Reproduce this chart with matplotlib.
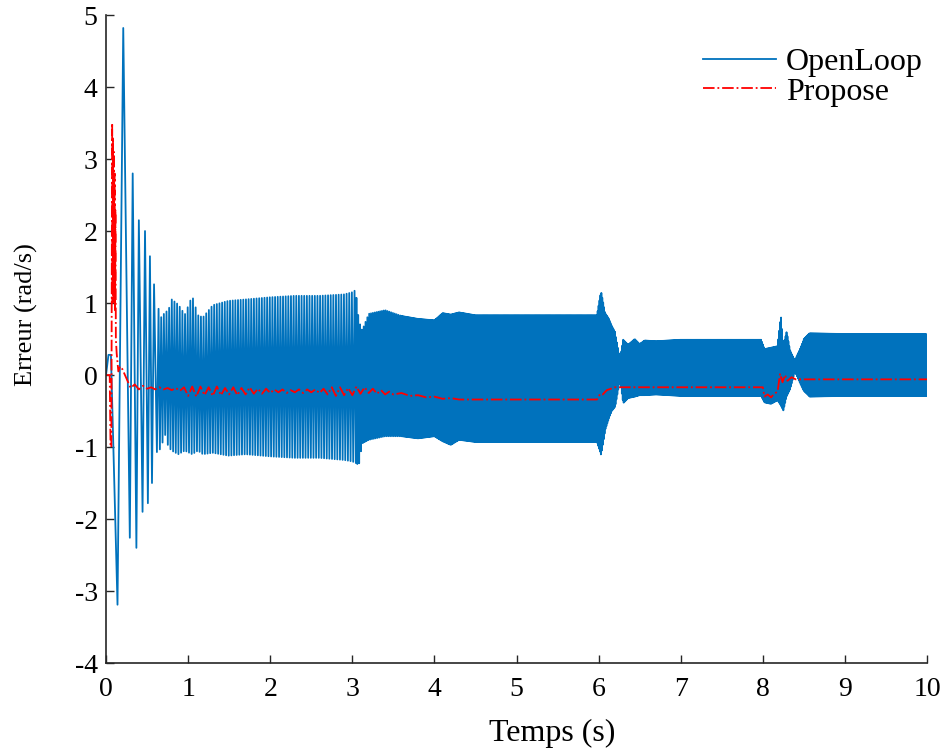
import numpy as np
import matplotlib
matplotlib.use("Agg")
import matplotlib.pyplot as plt

plt.rcParams['font.family'] = ['Liberation Serif', 'DejaVu Serif']
plt.rcParams['axes.unicode_minus'] = False

# ---- OpenLoop: early transient extrema (read individually) ----
ol_peak_t = [0.0, 0.03, 0.06, 0.14, 0.21, 0.29, 0.325, 0.37, 0.40, 0.445, 0.475, 0.51, 0.535, 0.56, 0.585, 0.62]
ol_peak_v = [0.0, 0.28, 0.28, -3.19, 4.82, -2.26, 2.8, -2.4, 2.15, -1.9, 2.0, -1.78, 1.65, -1.5, 1.26, -1.07]

# ---- OpenLoop: oscillation envelope (upper / lower) ----
env_t = [0.64, 0.67, 0.72, 0.76, 0.8, 0.88, 0.96, 1.05, 1.12, 1.18, 1.3, 1.49, 1.7, 2.0, 2.3, 2.6, 2.9,
         3.0, 3.04, 3.08, 3.12, 3.2, 3.4, 3.6, 3.8, 4.0, 4.1, 4.2, 4.3, 4.5, 5.0, 5.5, 5.98,
         6.03, 6.08, 6.12, 6.16, 6.2, 6.26, 6.3, 6.36, 6.44, 6.5, 6.56, 6.7, 7.0, 7.5, 7.98,
         8.02, 8.1, 8.18, 8.22, 8.25, 8.29, 8.33, 8.39, 8.45, 8.5, 8.57, 9.0, 10.0]
env_hi = [0.92, 0.8, 0.87, 0.9, 1.05, 0.98, 0.84, 1.1, 0.83, 0.8, 0.97, 1.03, 1.05, 1.08, 1.1, 1.1, 1.12,
          1.15, 1.18, 0.75, 0.62, 0.85, 0.9, 0.82, 0.78, 0.76, 0.86, 0.84, 0.87, 0.83, 0.83, 0.83, 0.83,
          1.16, 0.86, 0.79, 0.68, 0.6, 0.2, 0.49, 0.42, 0.5, 0.43, 0.48, 0.47, 0.49, 0.49, 0.49,
          0.36, 0.38, 0.4, 0.83, 0.4, 0.6, 0.35, 0.2, 0.35, 0.5, 0.58, 0.57, 0.57]
env_lo = [-1.07, -1.0, -0.83, -1.0, -1.05, -1.1, -1.05, -1.1, -1.05, -1.1, -1.08, -1.12, -1.1, -1.13, -1.15, -1.15, -1.18,
          -1.2, -1.22, -1.25, -0.95, -0.9, -0.85, -0.85, -0.88, -0.85, -0.92, -0.97, -0.9, -0.93, -0.93, -0.93, -0.93,
          -1.11, -0.76, -0.62, -0.5, -0.44, -0.07, -0.39, -0.32, -0.3, -0.28, -0.28, -0.27, -0.29, -0.29, -0.29,
          -0.38, -0.4, -0.35, -0.42, -0.49, -0.3, -0.2, 0.05, -0.1, -0.22, -0.3, -0.29, -0.29]

# visible oscillation rate (cycles per second) in each stretch
seg_t = [0.64, 3.05, 3.6, 10.0]
seg_rate = [31, 45, 90]

# ---- Propose ----
red_t = [0, 0.045, 0.055, 0.065, 0.075, 0.08, 0.085, 0.09, 0.095, 0.10, 0.105, 0.11, 0.115, 0.12, 0.13,
         0.15, 0.17, 0.2, 0.25, 0.3, 0.35, 0.4, 0.45, 0.5, 0.55, 0.6, 0.65, 0.7, 0.75, 0.8, 0.85, 0.9, 0.95,
         1.0, 1.05, 1.1, 1.15, 1.2, 1.25, 1.3, 1.35, 1.4, 1.45, 1.5, 1.55, 1.6, 1.65, 1.7, 1.75, 1.8, 1.85,
         1.9, 1.95, 2.0, 2.05, 2.1, 2.15, 2.2, 2.25, 2.3, 2.35, 2.4, 2.45, 2.5, 2.55, 2.6, 2.65, 2.7, 2.75,
         2.8, 2.85, 2.9, 2.95, 3.0, 3.05, 3.1, 3.15, 3.2, 3.25, 3.3, 3.35, 3.4, 3.45, 3.5, 3.6, 3.7, 3.8,
         3.9, 4.0, 4.1, 4.2, 4.3, 4.5, 5.0, 5.5, 5.98, 6.02, 6.05, 6.1, 6.15, 6.2, 7.0, 7.5, 8.0, 8.02,
         8.06, 8.1, 8.14, 8.18, 8.21, 8.24, 8.27, 8.3, 8.35, 8.4, 9.0, 10.0]
red_v = [0.0, 0.0, -1.0, -1.0, 3.5, 1.0, 3.3, 1.1, 3.1, 1.0, 2.8, 0.9, 2.3, 0.5, 0.3,
         0.05, 0.12, 0.08, -0.05, -0.18, -0.13, -0.2, -0.15, -0.19, -0.17, -0.2, -0.17, -0.2, -0.18, -0.21, -0.18, -0.22, -0.17,
         -0.29, -0.16, -0.3, -0.16, -0.28, -0.17, -0.29, -0.16, -0.28, -0.18, -0.27, -0.17, -0.28, -0.18, -0.27, -0.17, -0.26, -0.19,
         -0.26, -0.19, -0.25, -0.2, -0.24, -0.2, -0.25, -0.21, -0.24, -0.2, -0.25, -0.2, -0.24, -0.2, -0.25, -0.19, -0.27, -0.17,
         -0.29, -0.17, -0.28, -0.18, -0.28, -0.16, -0.26, -0.17, -0.25, -0.19, -0.26, -0.21, -0.27, -0.23, -0.27, -0.25, -0.29, -0.28,
         -0.31, -0.3, -0.33, -0.32, -0.34, -0.34, -0.34, -0.34, -0.34, -0.26, -0.27, -0.21, -0.19, -0.17, -0.17, -0.17, -0.17, -0.3,
         -0.27, -0.31, -0.26, -0.23, 0.02, -0.1, 0.0, -0.08, -0.03, -0.06, -0.06, -0.06]

x_ticks = list(range(0, 11))
y_ticks = list(range(-4, 6))

# ---- build OpenLoop polyline: early extrema, then alternating envelope extremes ----
bt = list(ol_peak_t)
bv = list(ol_peak_v)
for i, rate in enumerate(seg_rate):
    tt = np.arange(seg_t[i], seg_t[i + 1], 1.0 / (2 * rate))
    hi = np.interp(tt, env_t, env_hi)
    lo = np.interp(tt, env_t, env_lo)
    k0 = len(bt)
    for j, t in enumerate(tt):
        bt.append(t)
        bv.append(hi[j] if (k0 + j) % 2 == 0 else lo[j])

fig = plt.figure(figsize=(9.44, 7.48), dpi=100)
ax = fig.add_axes([0.1123, 0.1136, 0.8697, 0.8663])
ax.plot(bt, bv, color='#0072BD', lw=1.3, label='OpenLoop')
ax.plot(red_t, red_v, color='#FF0000', lw=1.3, ls='-.', label='Propose')

ax.set_xlim(0, 10)
ax.set_ylim(-4, 5)
ax.set_xticks(x_ticks)
ax.set_yticks(y_ticks)
ax.set_xticklabels([str(v) for v in x_ticks])
ax.set_yticklabels([str(v) for v in y_ticks])
for s in ['top', 'right']:
    ax.spines[s].set_visible(False)
for s in ['left', 'bottom']:
    ax.spines[s].set_color('#262626')
    ax.spines[s].set_linewidth(1.2)
ax.tick_params(direction='in', length=6, width=1.0, color='#262626', labelsize=20, labelcolor='black')
ax.tick_params(axis='x', pad=10)
ax.tick_params(axis='y', pad=6)
ax.set_xlabel('Temps (s)', fontsize=23)
ax.set_ylabel('Erreur (rad/s)', fontsize=19)
ax.xaxis.set_label_coords(0.544, -0.086)
ax.yaxis.set_label_coords(-0.083, 0.537)

ax.legend(loc='upper right', bbox_to_anchor=(1.018, 0.979), frameon=False, fontsize=23,
          handlelength=2.3, handletextpad=0.3, labelspacing=0.0, borderaxespad=0.2)

fig.savefig('out.png', dpi=100)
